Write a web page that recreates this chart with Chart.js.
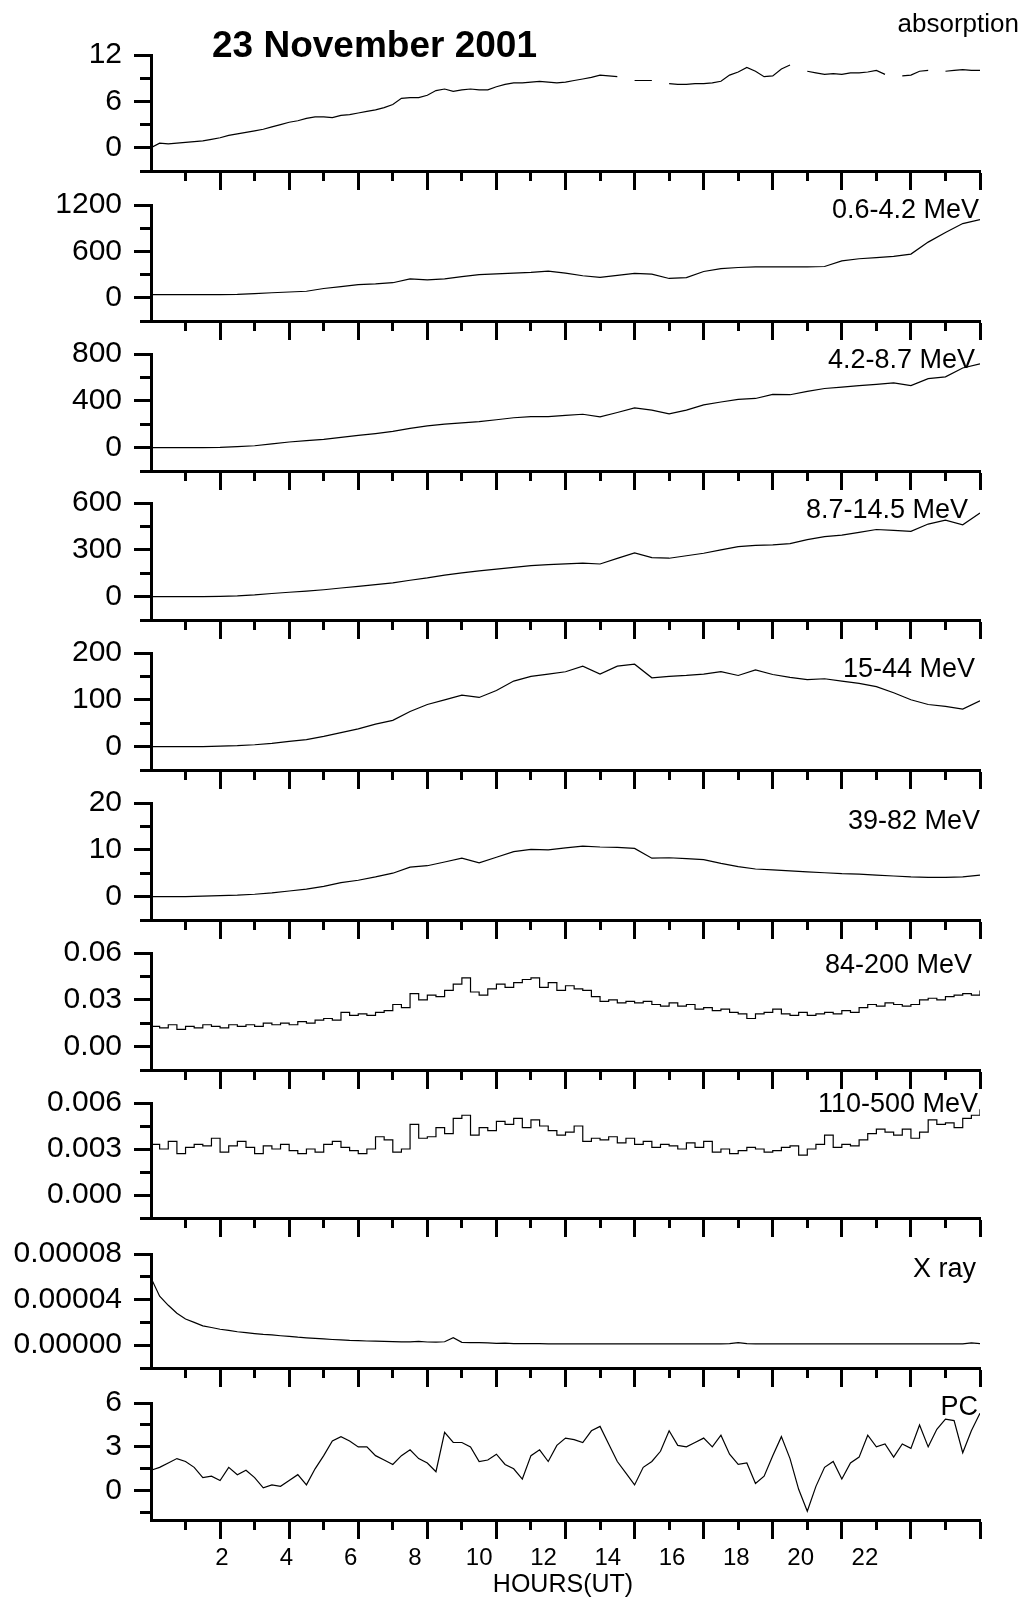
<!DOCTYPE html>
<html>
<head>
<meta charset="utf-8">
<script src="https://cdn.jsdelivr.net/npm/chart.js@4.4.1/dist/chart.umd.min.js"></script>
<style>
  html, body { margin: 0; padding: 0; background: #fff; }
  #page { position: relative; width: 1024px; height: 1600px; overflow: hidden; background: #fff; }
  #page canvas { position: absolute; left: 0; }
</style>
</head>
<body>
<div id="page"></div>
<script>
// time grids (hours UT)
const hoursFine = [0,0.25,0.5,0.75,1,1.25,1.5,1.75,2,2.25,2.5,2.75,3,3.25,3.5,3.75,
  4,4.25,4.5,4.75,5,5.25,5.5,5.75,6,6.25,6.5,6.75,7,7.25,7.5,7.75,
  8,8.25,8.5,8.75,9,9.25,9.5,9.75,10,10.25,10.5,10.75,11,11.25,11.5,11.75,
  12,12.25,12.5,12.75,13,13.25,13.5,13.75,14,14.25,14.5,14.75,15,15.25,15.5,15.75,
  16,16.25,16.5,16.75,17,17.25,17.5,17.75,18,18.25,18.5,18.75,19,19.25,19.5,19.75,
  20,20.25,20.5,20.75,21,21.25,21.5,21.75,22,22.25,22.5,22.75,23,23.25,23.5,23.75,24];
const hoursCoarse = [0,0.5,1,1.5,2,2.5,3,3.5,4,4.5,5,5.5,6,6.5,7,7.5,
  8,8.5,9,9.5,10,10.5,11,11.5,12,12.5,13,13.5,14,14.5,15,15.5,
  16,16.5,17,17.5,18,18.5,19,19.5,20,20.5,21,21.5,22,22.5,23,23.5,24];

// x axis: hour tick marks and the printed hour labels
const hourMarks = [1,2,3,4,5,6,7,8,9,10,11,12,13,14,15,16,17,18,19,20,21,22,23,24];
const hourLabels = [2,4,6,8,10,12,14,16,18,20,22];

// series
const absorption = [
  0.0, 0.6, 0.5, 0.6, 0.7, 0.8, 0.9, 1.1,
  1.3, 1.6, 1.8, 2.0, 2.2, 2.4, 2.7, 3.0,
  3.3, 3.5, 3.8, 4.0, 4.0, 3.9, 4.2, 4.3,
  4.5, 4.7, 4.9, 5.2, 5.6, 6.4, 6.5, 6.5,
  6.8, 7.4, 7.6, 7.3, 7.5, 7.6, 7.5, 7.5,
  7.9, 8.2, 8.4, 8.4, 8.5, 8.6, 8.5, 8.4,
  8.5, 8.7, 8.9, 9.1, 9.4, 9.3, 9.2, null,
  8.7, 8.7, 8.7, null, 8.3, 8.2, 8.2, 8.3,
  8.3, 8.4, 8.6, 9.4, 9.8, 10.4, 9.9, 9.2,
  9.3, 10.2, 10.7, null, 9.9, 9.7, 9.5, 9.6,
  9.5, 9.7, 9.7, 9.8, 10.0, 9.5, null, 9.3,
  9.4, 9.9, 10.0, null, 9.9, 10.0, 10.1, 10.0,
  10.0];
const mev06_42 = [
  40, 40, 40, 40, 42, 45, 55, 65,
  75, 85, 120, 145, 170, 180, 195, 245,
  232, 245, 275, 300, 310, 320, 330, 345,
  320, 285, 265, 290, 315, 305, 250, 262,
  340, 378, 392, 400, 400, 400, 400, 405,
  478, 505, 520, 535, 565, 720, 845, 960,
  1010];
const mev42_87 = [
  0, 0, 0, 0, 2, 8, 16, 32,
  48, 60, 70, 88, 105, 120, 138, 165,
  185, 200, 212, 222, 238, 255, 265, 265,
  275, 285, 262, 300, 340, 320, 288, 320,
  365, 390, 412, 420, 455, 452, 480, 505,
  517, 530, 540, 553, 530, 590, 605, 680,
  715];
const mev87_145 = [
  0, 0, 0, 0, 2, 5, 11, 20,
  28, 35, 44, 55, 66, 77, 88, 105,
  120, 138, 152, 165, 176, 187, 198, 205,
  210, 215, 209, 245, 280, 250, 246, 262,
  278, 300, 320, 328, 332, 340, 365, 385,
  394, 412, 430, 425, 418, 465, 490, 460,
  536];
const mev15_44 = [
  0, 0, 0, 0, 1, 2, 4, 7,
  11, 15, 22, 30, 38, 48, 56, 75,
  90, 100, 110, 105, 120, 140, 150, 155,
  160, 172, 155, 172, 176, 147, 150, 152,
  155, 160, 152, 164, 154, 148, 143, 145,
  140, 135, 128, 115, 100, 90, 86, 80,
  98];
const mev39_82 = [
  0, 0, 0, 0.1, 0.2, 0.3, 0.5, 0.8,
  1.2, 1.6, 2.2, 3.0, 3.5, 4.2, 5.0, 6.3,
  6.6, 7.4, 8.2, 7.2, 8.4, 9.6, 10.1, 10.0,
  10.4, 10.8, 10.6, 10.5, 10.3, 8.2, 8.3, 8.1,
  7.9, 7.1, 6.4, 5.9, 5.7, 5.5, 5.3, 5.1,
  4.9, 4.8, 4.6, 4.4, 4.2, 4.1, 4.1, 4.2,
  4.6];
const mev84_200 = [
  0.013, 0.012, 0.014, 0.011, 0.013, 0.012, 0.014, 0.013,
  0.012, 0.014, 0.013, 0.014, 0.013, 0.015, 0.014, 0.015,
  0.014, 0.016, 0.015, 0.017, 0.018, 0.017, 0.022, 0.020,
  0.021, 0.020, 0.022, 0.023, 0.027, 0.025, 0.034, 0.030,
  0.033, 0.032, 0.036, 0.040, 0.044, 0.035, 0.033, 0.037,
  0.040, 0.038, 0.041, 0.043, 0.044, 0.038, 0.041, 0.036,
  0.039, 0.037, 0.036, 0.032, 0.029, 0.030, 0.028, 0.029,
  0.028, 0.029, 0.027, 0.026, 0.028, 0.026, 0.027, 0.024,
  0.025, 0.023, 0.024, 0.022, 0.021, 0.018, 0.021, 0.022,
  0.024, 0.021, 0.020, 0.022, 0.020, 0.021, 0.022, 0.021,
  0.023, 0.022, 0.025, 0.027, 0.026, 0.028, 0.027, 0.026,
  0.027, 0.030, 0.031, 0.030, 0.032, 0.033, 0.034, 0.033,
  0.036];
const mev110_500 = [
  0.0033, 0.0030, 0.0035, 0.0027, 0.0031, 0.0033, 0.0032, 0.0037,
  0.0028, 0.0032, 0.0035, 0.0031, 0.0027, 0.0032, 0.0030, 0.0033,
  0.0029, 0.0027, 0.0030, 0.0028, 0.0033, 0.0035, 0.0031, 0.0029,
  0.0027, 0.0030, 0.0038, 0.0036, 0.0028, 0.0030, 0.0046, 0.0037,
  0.0038, 0.0044, 0.0040, 0.0050, 0.0052, 0.0039, 0.0044, 0.0042,
  0.0048, 0.0046, 0.0050, 0.0044, 0.0049, 0.0045, 0.0042, 0.0039,
  0.0041, 0.0045, 0.0035, 0.0037, 0.0036, 0.0038, 0.0034, 0.0037,
  0.0033, 0.0035, 0.0031, 0.0033, 0.0032, 0.0030, 0.0034, 0.0031,
  0.0035, 0.0028, 0.0030, 0.0027, 0.0029, 0.0031, 0.0030, 0.0028,
  0.0029, 0.0031, 0.0032, 0.0026, 0.0030, 0.0033, 0.0039, 0.0031,
  0.0033, 0.0032, 0.0036, 0.0040, 0.0043, 0.0041, 0.0039, 0.0043,
  0.0037, 0.0041, 0.0049, 0.0046, 0.0047, 0.0044, 0.0050, 0.0052,
  0.0056];
const xray = [
  5.9e-5, 4.3e-5, 3.5e-5, 2.8e-5, 2.3e-5, 2.0e-5, 1.7e-5, 1.55e-5,
  1.4e-5, 1.3e-5, 1.18e-5, 1.1e-5, 1.02e-5, 9.5e-6, 9.0e-6, 8.3e-6,
  7.7e-6, 7.0e-6, 6.5e-6, 6.0e-6, 5.5e-6, 5.0e-6, 4.6e-6, 4.2e-6,
  4.0e-6, 3.7e-6, 3.5e-6, 3.3e-6, 3.1e-6, 3.0e-6, 2.9e-6, 3.4e-6,
  2.8e-6, 2.7e-6, 3.0e-6, 6.5e-6, 2.5e-6, 2.3e-6, 2.2e-6, 2.0e-6,
  1.6e-6, 1.8e-6, 1.4e-6, 1.4e-6, 1.3e-6, 1.3e-6, 1.2e-6, 1.2e-6,
  1.2e-6, 1.2e-6, 1.2e-6, 1.2e-6, 1.2e-6, 1.1e-6, 1.1e-6, 1.1e-6,
  1.1e-6, 1.1e-6, 1.1e-6, 1.1e-6, 1.1e-6, 1.1e-6, 1.1e-6, 1.1e-6,
  1.1e-6, 1.1e-6, 1.2e-6, 1.4e-6, 2.2e-6, 1.4e-6, 1.2e-6, 1.1e-6,
  1.1e-6, 1.1e-6, 1.1e-6, 1.1e-6, 1.1e-6, 1.1e-6, 1.1e-6, 1.1e-6,
  1.1e-6, 1.1e-6, 1.1e-6, 1.1e-6, 1.1e-6, 1.1e-6, 1.1e-6, 1.1e-6,
  1.1e-6, 1.1e-6, 1.1e-6, 1.1e-6, 1.1e-6, 1.2e-6, 1.2e-6, 2.1e-6,
  1.4e-6];
const pc = [
  1.4, 1.6, 1.9, 2.2, 2.0, 1.6, 0.9, 1.0,
  0.7, 1.6, 1.1, 1.4, 0.9, 0.2, 0.4, 0.3,
  0.7, 1.1, 0.4, 1.5, 2.4, 3.4, 3.7, 3.4,
  3.0, 3.0, 2.4, 2.1, 1.8, 2.4, 2.8, 2.2,
  1.9, 1.3, 4.0, 3.3, 3.3, 3.0, 2.0, 2.1,
  2.5, 1.8, 1.5, 0.8, 2.4, 2.8, 2.0, 3.1,
  3.6, 3.5, 3.3, 4.1, 4.4, 3.2, 2.0, 1.2,
  0.4, 1.6, 2.0, 2.7, 4.1, 3.1, 3.0, 3.3,
  3.6, 3.0, 3.8, 2.5, 1.8, 1.9, 0.5, 1.0,
  2.4, 3.7, 2.2, 0.1, -1.4, 0.3, 1.6, 2.0,
  0.8, 1.9, 2.3, 3.8, 3.0, 3.2, 2.3, 3.2,
  2.9, 4.5, 3.0, 4.2, 4.9, 4.8, 2.6, 4.1,
  5.3];

// y tick values per panel (odd positions carry a label)
const absorptionTicks = [-3, 0, 3, 6, 9, 12];
const mev06_42Ticks = [-300, 0, 300, 600, 900, 1200];
const mev42_87Ticks = [-200, 0, 200, 400, 600, 800];
const mev87_145Ticks = [-150, 0, 150, 300, 450, 600];
const mev15_44Ticks = [-50, 0, 50, 100, 150, 200];
const mev39_82Ticks = [-5, 0, 5, 10, 15, 20];
const mev84_200Ticks = [-0.015, 0, 0.015, 0.03, 0.045, 0.06];
const mev110_500Ticks = [-0.0015, 0, 0.0015, 0.003, 0.0045, 0.006];
const xrayTicks = [-0.00002, 0, 0.00002, 0.00004, 0.00006, 0.00008];
const pcTicks = [-1.5, 0, 1.5, 3, 4.5, 6];

const FONT = "'Liberation Sans', Arial, Helvetica, sans-serif";
const LABEL_FONT = '27px ' + FONT;

const panels = [
  {hours: hoursFine, values: absorption, ticks: absorptionTicks, min: -3, dec: 0, top: 55, bottom: 173,
   texts: [{text: '23 November 2001', x: 212, dy: 2, font: 'bold 37px ' + FONT, align: 'left'},
           {text: 'absorption', x: 1019, dy: -23, font: '26px ' + FONT}]},
  {hours: hoursCoarse, values: mev06_42, ticks: mev06_42Ticks, min: -300, dec: 0, top: 205, bottom: 323,
   texts: [{text: '0.6-4.2 MeV', x: 979, dy: 13}]},
  {hours: hoursCoarse, values: mev42_87, ticks: mev42_87Ticks, min: -200, dec: 0, top: 354, bottom: 473,
   texts: [{text: '4.2-8.7 MeV', x: 975, dy: 14}]},
  {hours: hoursCoarse, values: mev87_145, ticks: mev87_145Ticks, min: -150, dec: 0, top: 503, bottom: 622,
   texts: [{text: '8.7-14.5 MeV', x: 968, dy: 15}]},
  {hours: hoursCoarse, values: mev15_44, ticks: mev15_44Ticks, min: -50, dec: 0, top: 653, bottom: 772,
   texts: [{text: '15-44 MeV', x: 975, dy: 24}]},
  {hours: hoursCoarse, values: mev39_82, ticks: mev39_82Ticks, min: -5, dec: 0, top: 803, bottom: 922,
   texts: [{text: '39-82 MeV', x: 980, dy: 26}]},
  {hours: hoursFine, values: mev84_200, ticks: mev84_200Ticks, min: -0.015, dec: 2, top: 953, bottom: 1072, stepped: true,
   texts: [{text: '84-200 MeV', x: 972, dy: 20}]},
  {hours: hoursFine, values: mev110_500, ticks: mev110_500Ticks, min: -0.0015, dec: 3, top: 1103, bottom: 1220, stepped: true,
   texts: [{text: '110-500 MeV', x: 978, dy: 9}]},
  {hours: hoursFine, values: xray, ticks: xrayTicks, min: -0.00002, dec: 5, top: 1254, bottom: 1370,
   texts: [{text: 'X ray', x: 976, dy: 23}]},
  {hours: hoursFine, values: pc, ticks: pcTicks, min: -2, dec: 0, top: 1403, bottom: 1520,
   texts: [{text: 'PC', x: 978, dy: 12},
           {text: 'HOURS(UT)', x: 563, dy: 189, font: '25px ' + FONT, align: 'center'}]}
];

const panelText = {
  id: 'panelText',
  afterDraw(chart, args, opts) {
    const {ctx, chartArea} = chart;
    (opts.items || []).forEach(it => {
      ctx.save();
      ctx.font = it.font || LABEL_FONT;
      ctx.fillStyle = '#000';
      ctx.textAlign = it.align || 'right';
      ctx.textBaseline = 'alphabetic';
      ctx.fillText(it.text, it.x, chartArea.top + it.dy);
      ctx.restore();
    });
  }
};
Chart.register(panelText);

const page = document.getElementById('page');

panels.forEach((p, i) => {
  const last = i === panels.length - 1;
  const padTop = i === 0 ? p.top : 40;
  const plotH = p.bottom - p.top;
  const tickAxisH = 22;
  const labelAxisH = last ? 54 : 0;
  const canvasTop = p.top - padTop;
  const height = last ? 1600 - canvasTop : padTop + plotH + tickAxisH + 6;
  const padBottom = height - padTop - plotH - tickAxisH - labelAxisH;

  const canvas = document.createElement('canvas');
  canvas.width = 1024;
  canvas.height = height;
  canvas.style.width = '1024px';
  canvas.style.height = height + 'px';
  canvas.style.top = canvasTop + 'px';
  page.appendChild(canvas);

  new Chart(canvas.getContext('2d'), {
    type: 'line',
    data: {
      datasets: [{
        data: p.hours.map((h, j) => ({x: h, y: p.values[j]})),
        borderColor: '#000',
        borderWidth: 1.2,
        pointRadius: 0,
        tension: 0,
        spanGaps: false,
        stepped: p.stepped ? true : false,
        xAxisID: 'x',
        yAxisID: 'y'
      }]
    },
    options: {
      responsive: false,
      animation: false,
      devicePixelRatio: 1,
      events: [],
      layout: {padding: {top: padTop, right: 44, bottom: padBottom, left: 0}},
      plugins: {
        legend: {display: false},
        tooltip: {enabled: false},
        panelText: {items: p.texts}
      },
      scales: {
        x: {
          type: 'linear', axis: 'x', position: 'bottom', weight: 0,
          min: 0, max: 24,
          afterBuildTicks: ax => { ax.ticks = hourMarks.map(v => ({value: v})); },
          afterFit: ax => { ax.height = tickAxisH; },
          ticks: {display: false, autoSkip: false},
          grid: {
            drawOnChartArea: false, drawTicks: true, tickLength: 19, tickWidth: 3, tickColor: '#000',
            tickBorderDash: c => (c.tick && c.tick.value % 2 === 1) ? [8, 40] : []
          },
          border: {display: true, color: '#000', width: 3}
        },
        xl: {
          type: 'linear', axis: 'x', position: 'bottom', weight: 1,
          display: last,
          min: -0.21, max: 25.58,
          afterBuildTicks: ax => { ax.ticks = hourLabels.map(v => ({value: v})); },
          afterFit: ax => { if (last) ax.height = labelAxisH; },
          grid: {display: false, drawTicks: false, tickLength: 0},
          border: {display: false},
          ticks: {
            autoSkip: false, maxRotation: 0, padding: 2, color: '#000',
            font: {family: FONT, size: 24},
            callback: v => String(v)
          }
        },
        y: {
          type: 'linear', position: 'left',
          min: p.min, max: p.ticks[p.ticks.length - 1],
          afterBuildTicks: ax => { ax.ticks = p.ticks.map(v => ({value: v})); },
          afterFit: ax => { ax.width = 151; },
          grid: {
            drawOnChartArea: false, drawTicks: true, tickLength: 17, tickWidth: 3, tickColor: '#000',
            tickBorderDash: c => (c.index % 2 === 0) ? [0, 6, 12, 40] : []
          },
          border: {display: true, color: '#000', width: 3},
          ticks: {
            padding: 12, color: '#000', autoSkip: false,
            font: {family: FONT, size: 30},
            callback: (v, idx) => idx % 2 === 1 ? Number(v).toFixed(p.dec) : ''
          }
        }
      }
    }
  });
});
</script>
</body>
</html>
